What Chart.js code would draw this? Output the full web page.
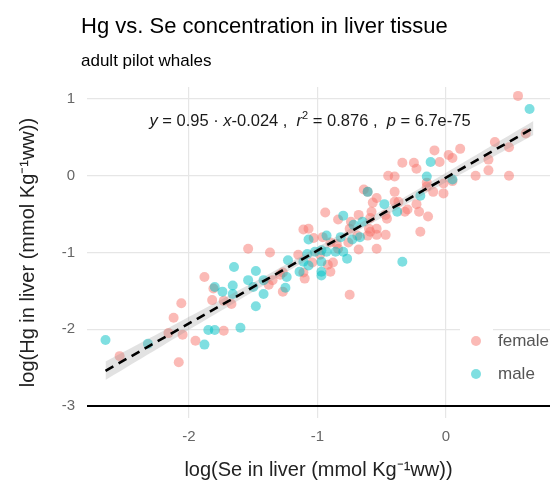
<!DOCTYPE html>
<html>
<head>
<meta charset="utf-8">
<script src="https://cdn.jsdelivr.net/npm/chart.js@4.4.1/dist/chart.umd.min.js"></script>
<style>
  html, body { margin: 0; padding: 0; background: #fff; }
  canvas { display: block; }
</style>
</head>
<body>
<canvas id="chart" width="556" height="490"></canvas>
<script>
// log(Se) and log(Hg) in liver, one value per whale
const femaleSe = [-2.54, -2.16, -2.12, -2.06, -2.08, -2.05, -1.95, -1.88, -1.82, -1.73, -1.67, -1.73, -1.81,
  -1.54, -1.37, -1.15, -1.29, -1.35, -1.27, -1.27, -1.11, -1.10, -1.04, -0.98, -0.92, -0.88, -0.90, -0.84,
  -0.85, -0.76, -0.68, -0.54, -0.75, -0.69, -0.61, -0.54, -0.47, -0.59, -0.20, -1.11, -1.07, -0.96, -0.94,
  -0.84, -0.74, -0.68, -0.59, -0.75, -0.60, -0.54, -0.64, -0.61, -0.54, -0.40, -0.40, -0.57, -0.58, -0.37,
  -0.30, -0.23, -0.21, -0.14, -0.15, -0.34, -0.25, -0.23, -0.45, -0.40, -0.09, -0.05, 0.02, 0.05, 0.11,
  -0.10, -0.02, -0.02, -0.15, 0.05, 0.23, 0.33, 0.33, 0.38, 0.49, 0.49, 0.62, 0.56, -1.03, -0.90, -0.46,
  -0.32, -0.47, -1.38];
const femaleHg = [-2.35, -2.05, -1.85, -1.66, -2.43, -2.07, -2.15, -1.32, -1.62, -1.63, -1.67, -2.02, -1.47,
  -0.95, -1.00, -1.03, -1.29, -1.36, -1.51, -1.26, -1.26, -1.34, -1.13, -1.03, -1.16, -1.13, -1.25, -0.95,
  -0.89, -0.87, -0.96, -0.95, -1.55, -0.78, -0.78, -0.77, -0.77, -0.73, -0.73, -0.70, -0.69, -0.80, -0.48,
  -0.57, -0.60, -0.51, -0.55, -0.69, -0.69, -0.69, -0.18, -0.21, -0.29, -0.21, -0.34, -0.35, -0.47, -0.34,
  -0.44, -0.37, -0.47, -0.53, -0.14, 0.17, 0.17, 0.09, 0.00, -0.01, 0.33, 0.18, 0.27, 0.23, 0.35,
  -0.21, -0.10, -0.23, -0.09, -0.07, 0.00, 0.21, 0.07, 0.44, 0.37, 0.00, 0.55, 1.04, -0.81, -0.87, -0.56,
  -0.47, -0.51, -1.42];

const maleSe = [-2.65, -2.32, -1.88, -1.85, -1.80, -1.60, -1.80, -1.74, -1.66, -1.66, -1.65, -1.54, -1.48,
  -1.42, -1.42, -1.48, -1.50, -1.23, -1.11, -1.14, -1.24, -1.25, -1.07, -1.08, -1.07, -1.02, -0.97, -0.93,
  -0.97, -0.97, -0.97, -0.86, -0.80, -0.77, -0.82, -0.73, -0.67, -0.93, -0.34, -0.80, -0.72, -0.65, -0.61,
  -0.48, -0.38, -0.20, -0.15, -0.12, 0.05, 0.65];
const maleHg = [-2.14, -2.19, -2.20, -2.01, -2.01, -1.98, -1.45, -1.51, -1.43, -1.54, -1.19, -1.36, -1.24,
  -1.36, -1.54, -1.70, -1.45, -1.10, -1.12, -1.25, -1.32, -1.46, -0.83, -1.02, -1.17, -0.99, -0.97, -0.99,
  -1.12, -1.25, -1.30, -0.99, -0.99, -1.08, -0.80, -0.83, -0.80, -0.78, -1.12, -0.52, -0.64, -0.60, -0.21,
  -0.37, -0.47, -0.26, -0.01, 0.18, -0.05, 0.87];

// linear fit and its confidence band
const fitSlope = 0.95;
const fitIntercept = -0.024;
const fitR2 = '0.876';
const fitP = '6.7e-75';
const bandSe = [-2.65, -2.2, -1.8, -1.4, -1.0, -0.6, -0.2, 0.2, 0.68];
const bandHalfWidth = [0.12, 0.095, 0.075, 0.055, 0.045, 0.045, 0.055, 0.07, 0.09];

const xTicks = [-2, -1, 0];
const yTicks = [-3, -2, -1, 0, 1];
const baselineHg = -3;

const FONT = '"Liberation Sans", Arial, sans-serif';
const PINK = 'rgba(248, 118, 109, 0.5)';
const TEAL = 'rgba(0, 191, 196, 0.5)';

const toPoints = (xs, ys) => xs.map((x, i) => ({ x: x, y: ys[i] }));
const fitAt = x => fitSlope * x + fitIntercept;

const bandLower = bandSe.map((x, i) => ({ x: x, y: fitAt(x) - bandHalfWidth[i] }));
const bandUpper = bandSe.map((x, i) => ({ x: x, y: fitAt(x) + bandHalfWidth[i] }));
const fitEnds = [bandSe[0], bandSe[bandSe.length - 1]].map(x => ({ x: x, y: fitAt(x) }));

// titles, equation, horizontal reference line and legend
const decorations = {
  id: 'decorations',
  afterDatasetsDraw(chart) {
    const { ctx, chartArea, scales } = chart;
    const yBase = scales.y.getPixelForValue(baselineHg);
    ctx.save();
    ctx.strokeStyle = '#000';
    ctx.lineWidth = 2;
    ctx.beginPath();
    ctx.moveTo(chartArea.left, yBase);
    ctx.lineTo(chartArea.right, yBase);
    ctx.stroke();
    ctx.restore();
  },
  afterDraw(chart) {
    const { ctx } = chart;
    ctx.save();
    ctx.fillStyle = '#000';
    ctx.textBaseline = 'alphabetic';
    ctx.textAlign = 'left';
    ctx.font = '22px ' + FONT;
    ctx.fillText('Hg vs. Se concentration in liver tissue', 81, 33);
    ctx.font = '17px ' + FONT;
    ctx.fillText('adult pilot whales', 81, 66);

    // regression equation, mixing italic symbols and a superscript
    const parts = [
      { t: 'y', f: 'italic 16.5px ' }, { t: ' = 0.95 \u00b7 ', f: '16.5px ' },
      { t: 'x', f: 'italic 16.5px ' }, { t: '-0.024 ,  ', f: '16.5px ' },
      { t: 'r', f: 'italic 16.5px ' }, { t: '2', f: '11px ', up: 7 },
      { t: ' = ' + fitR2 + ' ,  ', f: '16.5px ' },
      { t: 'p', f: 'italic 16.5px ' }, { t: ' = ' + fitP, f: '16.5px ' }
    ];
    let total = 0;
    parts.forEach(p => { ctx.font = p.f + FONT; p.w = ctx.measureText(p.t).width; total += p.w; });
    let x = 310 - total / 2;
    ctx.fillStyle = '#1a1a1a';
    parts.forEach(p => {
      ctx.font = p.f + FONT;
      ctx.fillText(p.t, x, 126 - (p.up || 0));
      x += p.w;
    });

    // legend keys
    const keys = [{ label: 'female', color: PINK, y: 341 }, { label: 'male', color: TEAL, y: 374 }];
    ctx.fillStyle = '#fff';
    ctx.fillRect(460, 325, 33, 66);
    keys.forEach(k => {
      ctx.fillStyle = k.color;
      ctx.beginPath();
      ctx.arc(476, k.y, 5, 0, Math.PI * 2);
      ctx.fill();
      ctx.fillStyle = '#555';
      ctx.font = '17px ' + FONT;
      ctx.textBaseline = 'middle';
      ctx.fillText(k.label, 498, k.y);
    });
    ctx.restore();
  }
};

new Chart(document.getElementById('chart'), {
  type: 'scatter',
  data: {
    datasets: [
      { label: 'fit', data: fitEnds, showLine: true, borderColor: '#000', borderWidth: 2.6,
        borderDash: [9, 6], pointRadius: 0, order: 0 },
      { label: 'band upper', data: bandUpper, showLine: true, borderWidth: 0, pointRadius: 0,
        tension: 0.4, fill: '+1', backgroundColor: 'rgba(150, 150, 150, 0.28)', order: 1 },
      { label: 'band lower', data: bandLower, showLine: true, borderWidth: 0, pointRadius: 0,
        tension: 0.4, order: 1 },
      { label: 'male', data: toPoints(maleSe, maleHg), backgroundColor: TEAL, borderWidth: 0,
        pointRadius: 5, order: 2 },
      { label: 'female', data: toPoints(femaleSe, femaleHg), backgroundColor: PINK, borderWidth: 0,
        pointRadius: 5, order: 3 }
    ]
  },
  options: {
    responsive: false,
    animation: false,
    devicePixelRatio: 1,
    layout: { padding: { top: 87, right: 6, bottom: 0, left: 0 } },
    plugins: { legend: { display: false }, tooltip: { enabled: false } },
    scales: {
      x: {
        type: 'linear', min: -2.794, max: 0.809,
        afterBuildTicks: s => { s.ticks = xTicks.map(v => ({ value: v })); },
        afterFit: s => { s.height = 72; },
        grid: { color: '#e6e6e6', lineWidth: 1.2, drawTicks: false },
        border: { display: false },
        ticks: { padding: 10, color: '#666', font: { family: FONT, size: 15 } },
        title: { display: true, text: 'log(Se in liver (mmol Kg\u207b\u00b9ww))', color: '#222',
          padding: { top: 0, bottom: 8 }, font: { family: FONT, size: 20 } }
      },
      y: {
        type: 'linear', min: -3.156, max: 1.156,
        afterBuildTicks: s => { s.ticks = yTicks.map(v => ({ value: v })); },
        afterFit: s => { s.width = 87; },
        grid: { color: '#e6e6e6', lineWidth: 1.2, drawTicks: false },
        border: { display: false },
        ticks: { padding: 12, color: '#666', font: { family: FONT, size: 15 } },
        title: { display: true, text: 'log(Hg in liver (mmol Kg\u207b\u00b9ww))', color: '#222',
          padding: { top: 16, bottom: 0 }, font: { family: FONT, size: 20 } }
      }
    }
  },
  plugins: [decorations]
});
</script>
</body>
</html>
